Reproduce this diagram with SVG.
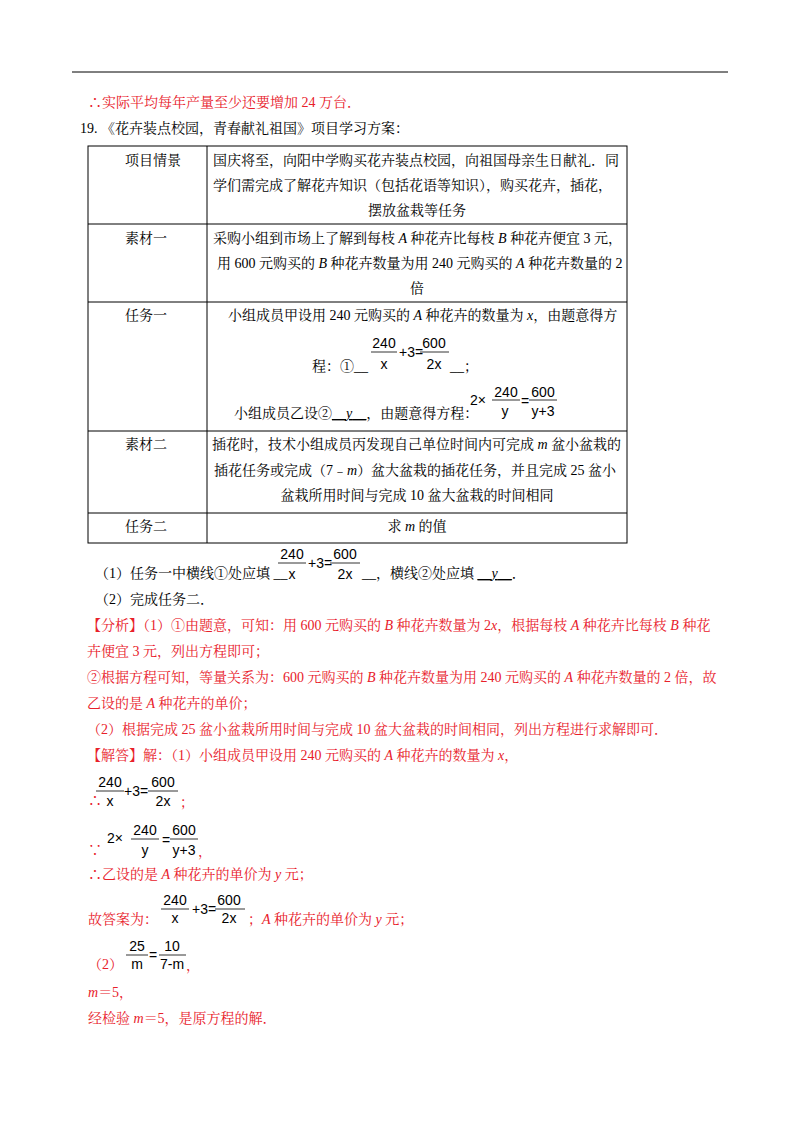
<svg xmlns="http://www.w3.org/2000/svg" width="800" height="1132" viewBox="0 0 800 1132">
<style>
text{font-family:"Liberation Serif","Noto Serif CJK SC","Noto Sans CJK SC",serif;font-size:14px;fill:#000}
.r{fill:#e8202a}
.m{font-family:"Liberation Sans","Noto Sans CJK SC",sans-serif;font-size:14px}
.i{font-style:italic}
.c{text-anchor:middle}
line{stroke:#000;stroke-width:1}
.fr{stroke-width:0.8}
</style>
<rect width="800" height="1132" fill="#fff"/>
<line x1="72" y1="72" x2="728" y2="72" stroke-width="1.5"/>
<text class="r" x="88" y="107">∴实际平均每年产量至少还要增加 24 万台．</text>
<text x="80" y="133">19.  《花卉装点校园，青春献礼祖国》项目学习方案：</text>
<g id="table">
<rect x="88" y="146" width="539" height="397" fill="none" stroke="#000"/>
<line x1="207" y1="146" x2="207" y2="543"/>
<line x1="88" y1="224" x2="627" y2="224"/>
<line x1="88" y1="302" x2="627" y2="302"/>
<line x1="88" y1="431" x2="627" y2="431"/>
<line x1="88" y1="513" x2="627" y2="513"/>
</g>
<g id="r1">
<text x="125" y="165">项目情景</text>
<text x="213" y="165">国庆将至，向阳中学购买花卉装点校园，向祖国母亲生日献礼．同</text>
<text x="213" y="190">学们需完成了解花卉知识（包括花语等知识），购买花卉，插花，</text>
<text class="c" x="417" y="215">摆放盆栽等任务</text>
</g>
<g id="r2">
<text x="125" y="243">素材一</text>
<text x="213" y="243">采购小组到市场上了解到每枝 <tspan class="i">A</tspan> 种花卉比每枝 <tspan class="i">B</tspan> 种花卉便宜 3 元，</text>
<text x="217" y="268">用 600 元购买的 <tspan class="i">B</tspan> 种花卉数量为用 240 元购买的 <tspan class="i">A</tspan> 种花卉数量的 2</text>
<text class="c" x="417" y="293">倍</text>
</g>
<g id="r3">
<text x="125" y="320">任务一</text>
<text x="228" y="320">小组成员甲设用 240 元购买的 <tspan class="i">A</tspan> 种花卉的数量为 <tspan class="i">x</tspan>，由题意得方</text>
<text x="312" y="371">程：①__</text>
<text class="m c" x="384" y="348">240</text><line class="fr" x1="371" y1="352" x2="397" y2="352"/><text class="m c" x="384" y="369" font-size="12">x</text>
<text class="m" x="399" y="357">+3=</text>
<text class="m c" x="434" y="348">600</text><line class="fr" x1="420" y1="352" x2="449" y2="352"/><text class="m c" x="434" y="369">2x</text>
<text x="450" y="371">__；</text>
<text x="234" y="418">小组成员乙设②<tspan text-decoration="underline">__<tspan class="i">y</tspan>__</tspan>，由题意得方程：</text>
<text class="m" x="470" y="405" font-size="16">2×</text>
<text class="m c" x="506" y="397">240</text><line class="fr" x1="492" y1="400" x2="520" y2="400"/><text class="m c" x="505" y="416">y</text>
<text class="m" x="521" y="406">=</text>
<text class="m c" x="543" y="397">600</text><line class="fr" x1="529" y1="400" x2="557" y2="400"/><text class="m c" x="543" y="416">y+3</text>
</g>
<g id="r4">
<text x="125" y="449">素材二</text>
<text x="212" y="449">插花时，技术小组成员丙发现自己单位时间内可完成 <tspan class="i">m</tspan> 盆小盆栽的</text>
<text x="214" y="475">插花任务或完成（7﹣<tspan class="i">m</tspan>）盆大盆栽的插花任务，并且完成 25 盆小</text>
<text class="c" x="417" y="500">盆栽所用时间与完成 10 盆大盆栽的时间相同</text>
</g>
<g id="r5">
<text x="125" y="531">任务二</text>
<text class="c" x="417" y="531">求 <tspan class="i">m</tspan> 的值</text>
</g>
<text x="95" y="578">（1）任务一中横线①处应填 __</text>
<text class="m c" x="292" y="559">240</text><line class="fr" x1="278" y1="563" x2="306" y2="563"/><text class="m c" x="292" y="579" font-size="12">x</text>
<text class="m" x="308" y="568">+3=</text>
<text class="m c" x="345" y="559">600</text><line class="fr" x1="330" y1="563" x2="360" y2="563"/><text class="m c" x="345" y="579">2x</text>
<text x="362" y="578">__，横线②处应填 <tspan text-decoration="underline">__<tspan class="i">y</tspan>__</tspan>．</text>
<text x="95" y="604">（2）完成任务二．</text>
<g class="r">
<text class="r" x="87" y="630">【分析】（1）①由题意，可知：用 600 元购买的 <tspan class="i">B</tspan> 种花卉数量为 2<tspan class="i">x</tspan>，根据每枝 <tspan class="i">A</tspan> 种花卉比每枝 <tspan class="i">B</tspan> 种花</text>
<text class="r" x="87" y="656">卉便宜 3 元，列出方程即可；</text>
<text class="r" x="87" y="682">②根据方程可知，等量关系为：600 元购买的 <tspan class="i">B</tspan> 种花卉数量为用 240 元购买的 <tspan class="i">A</tspan> 种花卉数量的 2 倍，故</text>
<text class="r" x="87" y="708">乙设的是 <tspan class="i">A</tspan> 种花卉的单价；</text>
<text class="r" x="87" y="734">（2）根据完成 25 盆小盆栽所用时间与完成 10 盆大盆栽的时间相同，列出方程进行求解即可．</text>
<text class="r" x="87" y="760">【解答】解：（1）小组成员甲设用 240 元购买的 <tspan class="i">A</tspan> 种花卉的数量为 <tspan class="i">x</tspan>，</text>
<text class="r" x="88" y="805">∴</text>
<text class="m c" x="110" y="787" fill="#000">240</text><line class="fr" x1="96" y1="791" x2="124" y2="791"/><text class="m c" x="110" y="806" font-size="12">x</text>
<text class="m" x="124" y="796">+3=</text>
<text class="m c" x="163" y="787">600</text><line class="fr" x1="148" y1="791" x2="178" y2="791"/><text class="m c" x="163" y="806">2x</text>
<text class="r" x="180" y="807">；</text>
<text class="r" x="88" y="855">∵</text>
<text class="m" x="107" y="843" font-size="16">2×</text>
<text class="m c" x="145" y="835">240</text><line class="fr" x1="131" y1="839" x2="159" y2="839"/><text class="m c" x="145" y="855">y</text>
<text class="m" x="162" y="845">=</text>
<text class="m c" x="184" y="835">600</text><line class="fr" x1="170" y1="839" x2="198" y2="839"/><text class="m c" x="184" y="855">y+3</text>
<text class="r" x="198" y="856">，</text>
<text class="r" x="88" y="879">∴乙设的是 <tspan class="i">A</tspan> 种花卉的单价为 <tspan class="i">y</tspan> 元；</text>
<text class="r" x="88" y="924">故答案为：</text>
<text class="m c" x="175" y="905">240</text><line class="fr" x1="161" y1="909" x2="189" y2="909"/><text class="m c" x="175" y="923" font-size="12">x</text>
<text class="m" x="192" y="914">+3=</text>
<text class="m c" x="229" y="905">600</text><line class="fr" x1="215" y1="909" x2="245" y2="909"/><text class="m c" x="229" y="923">2x</text>
<text class="r" x="248" y="924">；<tspan class="i">A</tspan> 种花卉的单价为 <tspan class="i">y</tspan> 元；</text>
<text class="r" x="88" y="969">（2）</text>
<text class="m c" x="137" y="951">25</text><line class="fr" x1="126" y1="955" x2="148" y2="955"/><text class="m c" x="137" y="969" font-size="12">m</text>
<text class="m" x="149" y="960">=</text>
<text class="m c" x="172" y="951">10</text><line class="fr" x1="159" y1="955" x2="186" y2="955"/><text class="m c" x="172" y="969">7-m</text>
<text class="r" x="186" y="970">，</text>
<text class="r" x="88" y="997"><tspan class="i">m</tspan>＝5，</text>
<text class="r" x="88" y="1023">经检验 <tspan class="i">m</tspan>＝5，是原方程的解．</text>
</g>
</svg>
